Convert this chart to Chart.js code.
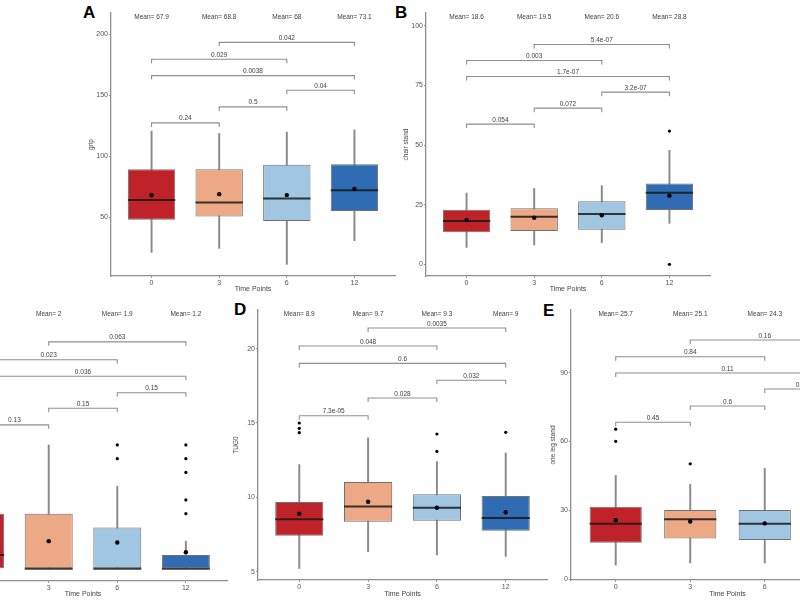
<!DOCTYPE html>
<html>
<head>
<meta charset="utf-8">
<script src="https://cdn.jsdelivr.net/npm/chart.js@4.4.0/dist/chart.umd.min.js"></script>
<style>
  html, body { margin: 0; padding: 0; background: #fff; }
  body { width: 800px; height: 600px; position: relative; overflow: hidden; }
  canvas { position: absolute; }
  .tag { position: absolute; font: bold 17px "Liberation Sans", Arial, sans-serif; color: #000; line-height: 1; }
</style>
</head>
<body>
<div class="tag" style="left:83px;top:4px">A</div>
<div class="tag" style="left:395px;top:4px">B</div>
<div class="tag" style="left:234px;top:301px">D</div>
<div class="tag" style="left:543px;top:302px">E</div>
<script>
const timePoints = ['0', '3', '6', '12'];
const boxColors = ['#BF2329', '#EDA985', '#A0C6E2', '#2F6CB3'];
// bracket pairs, same order in every panel
const pairs = [[0, 1], [1, 2], [2, 3], [0, 3], [0, 2], [1, 3]];

// A - grip
const gripLow = [21.0, 24.3, 11.2, 30.6];
const gripQ1 = [47.8, 50.5, 46.7, 54.9];
const gripMedian = [63.9, 62.0, 65.3, 71.9];
const gripQ3 = [89.3, 89.3, 92.9, 93.4];
const gripHigh = [120.5, 118.6, 119.7, 121.6];
const gripMean = [67.9, 68.8, 68, 73.1];
const gripOutliers = [];
const gripP = ['0.24', '0.5', '0.04', '0.0038', '0.029', '0.042'];
const gripBracketY = [127.3, 140.4, 154.1, 166.1, 179.5, 193.4];
const gripTicks = [50, 100, 150, 200];

// B - chair stand
const chairLow = [7.1, 8.1, 9.1, 17.2];
const chairQ1 = [13.4, 14.0, 14.5, 22.8];
const chairMedian = [18.2, 20.0, 21.1, 30.0];
const chairQ3 = [22.9, 23.5, 26.5, 33.9];
const chairHigh = [29.9, 31.8, 33.0, 47.8];
const chairMean = [18.6, 19.5, 20.6, 28.8];
const chairOutliers = [[3, 55.9], [3, 0]];
const chairP = ['0.054', '0.072', '3.2e-07', '1.7e-07', '0.003', '5.4e-07'];
const chairBracketY = [58.8, 65.5, 72.2, 78.8, 85.5, 92.2];
const chairTicks = [0, 25, 50, 75, 100];

// C - (left part cut off)
const cLow = [0, 0, 0, 0];
const cQ1 = [0, 0, 0, 0];
const cMedian = [1, 0, 0, 0];
const cQ3 = [4, 4, 3, 1];
const cHigh = [9, 9, 6, 2];
const cMean = [2.3, 2, 1.9, 1.2];
const cOutliers = [[2, 8], [2, 9], [3, 4], [3, 5], [3, 7], [3, 8], [3, 9]];
const cP = ['0.13', '0.15', '0.15', '0.036', '0.023', '0.063'];
const cBracketY = [10.46, 11.67, 12.8, 14.0, 15.2, 16.5];
const cTicks = [0, 5, 10, 15];

// D - TUG0
const tugLow = [5.22, 6.35, 6.12, 6.03];
const tugQ1 = [7.42, 8.36, 8.43, 7.76];
const tugMedian = [8.52, 9.39, 9.30, 8.61];
const tugQ3 = [9.69, 11.03, 10.20, 10.09];
const tugHigh = [12.2, 14.0, 12.4, 12.98];
const tugMean = [8.9, 9.7, 9.3, 9];
const tugOutliers = [[0, 15.0], [0, 14.64], [0, 14.35], [2, 14.26], [2, 13.09], [3, 14.37]];
const tugP = ['7.3e-05', '0.028', '0.032', '0.6', '0.048', '0.0035'];
const tugBracketY = [15.49, 16.68, 17.87, 19.01, 20.18, 21.39];
const tugTicks = [5, 10, 15, 20];

// E - one leg stand (12 month box is off the right edge)
const legLow = [6.1, 7.0, 7.0, 3];
const legQ1 = [15.9, 17.7, 17.1, 15];
const legMedian = [24.1, 26.1, 24.1, 22];
const legQ3 = [31.6, 30.1, 30.1, 30];
const legHigh = [45.2, 41.3, 48.3, 50];
const legMean = [25.7, 25.1, 24.3, 23.4];
const legOutliers = [[0, 65.4], [0, 60.1], [1, 50.3]];
const legP = ['0.45', '0.6', '0.27', '0.11', '0.84', '0.16'];
const legBracketY = [68.4, 75.5, 82.9, 89.9, 97.0, 104.3];
const legTicks = [0, 30, 60, 90];

const axisColor = '#8f8f8f';
const fontFamily = '"Liberation Sans", Arial, sans-serif';

function labelPlugin(means, meanY, pValues, heights) {
  return {
    id: 'boxLabels',
    afterDatasetsDraw(chart) {
      const ctx = chart.ctx;
      const x = chart.scales.x;
      const y = chart.scales.y;
      ctx.save();
      ctx.font = '6.5px ' + fontFamily;
      ctx.fillStyle = '#3c3c3c';
      ctx.textAlign = 'center';
      ctx.textBaseline = 'middle';
      means.forEach((m, i) => {
        ctx.fillText('Mean= ' + m, x.getPixelForValue(i), y.getPixelForValue(meanY));
      });
      ctx.textBaseline = 'bottom';
      pairs.forEach(([a, b], k) => {
        ctx.fillText(pValues[k], x.getPixelForValue((a + b) / 2), y.getPixelForValue(heights[k]) - 1);
      });
      ctx.restore();
    }
  };
}

function panelConfig(p) {
  const tick = (p.yMax - p.yMin) * 4 / (p.area.b - p.area.t);
  const idx = timePoints.map((_, i) => i);

  const datasets = [
    {
      type: 'bar',
      data: idx.map(i => ({ x: i, y: [p.low[i], p.high[i]] })),
      backgroundColor: '#8a8a8a',
      barThickness: 1.3,
      grouped: false,
      order: 6
    },
    {
      type: 'bar',
      data: idx.map(i => ({ x: i, y: [p.q1[i], p.q3[i]] })),
      backgroundColor: boxColors,
      borderColor: '#707070',
      borderWidth: 1,
      borderSkipped: false,
      barPercentage: 0.7,
      categoryPercentage: 1,
      grouped: false,
      order: 5
    },
    {
      type: 'line',
      data: idx.map(i => ({ x: i, y: p.median[i] })),
      showLine: false,
      pointStyle: 'line',
      pointRadius: (ctx) => {
        const sx = ctx.chart.scales.x;
        return sx.getPixelForValue(0.35) - sx.getPixelForValue(0);
      },
      pointBorderWidth: 2,
      pointBorderColor: 'rgba(25,25,25,0.85)',
      order: 4
    },
    {
      type: 'line',
      data: idx.map(i => ({ x: i, y: p.mean[i] })),
      showLine: false,
      pointRadius: 2.2,
      pointBorderWidth: 0,
      pointBackgroundColor: '#000',
      order: 3
    },
    {
      type: 'line',
      data: p.outliers.map(o => ({ x: o[0], y: o[1] })),
      showLine: false,
      pointRadius: 1.6,
      pointBorderWidth: 0,
      pointBackgroundColor: '#000',
      order: 3
    }
  ];

  pairs.forEach(([a, b], k) => {
    const h = p.bracketY[k];
    datasets.push({
      type: 'line',
      data: [{ x: a, y: h - tick }, { x: a, y: h }, { x: b, y: h }, { x: b, y: h - tick }],
      borderColor: axisColor,
      borderWidth: 1.1,
      pointRadius: 0,
      tension: 0,
      order: 1
    });
  });

  return {
    type: 'bar',
    data: { datasets: datasets },
    options: {
      responsive: false,
      animation: false,
      events: [],
      layout: { padding: { left: 0, right: 4, top: 0, bottom: 0 } },
      plugins: { legend: { display: false }, tooltip: { enabled: false } },
      scales: {
        x: {
          type: 'linear',
          min: -0.6,
          max: 3.6,
          offset: false,
          afterBuildTicks: (scale) => { scale.ticks = idx.map(v => ({ value: v })); },
          afterFit: (scale) => {
            scale.height = p.xH;
            scale.paddingLeft = 0;
            scale.paddingRight = 0;
          },
          ticks: {
            callback: (v) => timePoints[v],
            font: { size: 7, family: fontFamily },
            color: '#555',
            padding: 1,
            autoSkip: false,
            maxRotation: 0
          },
          grid: { display: true, drawOnChartArea: false, drawTicks: true, tickLength: 2, color: axisColor, offset: false },
          border: { display: true, color: axisColor, width: 1.3 },
          title: { display: true, text: 'Time Points', font: { size: 7, family: fontFamily }, color: '#444', padding: 0 }
        },
        y: {
          type: 'linear',
          min: p.yMin,
          max: p.yMax,
          afterBuildTicks: (scale) => { scale.ticks = p.ticks.map(v => ({ value: v })); },
          afterFit: (scale) => {
            scale.width = p.yW;
            scale.paddingTop = 0;
            scale.paddingBottom = 0;
          },
          ticks: { font: { size: 7, family: fontFamily }, color: '#555', padding: 1 },
          grid: { display: true, drawOnChartArea: false, drawTicks: true, tickLength: 2, color: axisColor },
          border: { display: true, color: axisColor, width: 1.3 },
          title: { display: !!p.yTitle, text: p.yTitle, font: { size: 6.5, family: fontFamily }, color: '#444', padding: { top: 0.5, bottom: 0 } }
        }
      }
    },
    plugins: [labelPlugin(p.mean, p.meanY, p.pValues, p.bracketY)]
  };
}

function placeCanvas(canvas, left, top, width, height) {
  canvas.width = width;
  canvas.height = height;
  canvas.style.left = left + 'px';
  canvas.style.top = top + 'px';
  canvas.style.width = width + 'px';
  canvas.style.height = height + 'px';
}

function buildPanel(p) {
  const canvas = document.createElement('canvas');
  document.body.appendChild(canvas);
  let left = p.area.l - p.yW;
  let top = p.area.t;
  let width = p.area.r - left + 4;
  let height = p.area.b + p.xH - top;
  placeCanvas(canvas, left, top, width, height);

  // first pass: see where the plot area lands, then move the canvas to match the reference
  const probe = new Chart(canvas.getContext('2d'), panelConfig(p));
  const a = probe.chartArea;
  const offTop = a.top;
  const offLeft = a.left - p.yW;
  const offBottom = (p.area.b - top) - a.bottom;
  const offRight = (p.area.r - left) - a.right;
  probe.destroy();

  top -= offTop;
  left -= offLeft;
  height += offTop + offBottom;
  width += offLeft + offRight;
  placeCanvas(canvas, left, top, width, height);
  new Chart(canvas.getContext('2d'), panelConfig(p));
}

buildPanel({
  area: { l: 111, t: 13, r: 395, b: 276 }, yW: 24, xH: 17,
  yMin: 1.6, yMax: 217.5, ticks: gripTicks, yTitle: 'grip',
  low: gripLow, q1: gripQ1, median: gripMedian, q3: gripQ3, high: gripHigh,
  mean: gripMean, outliers: gripOutliers, meanY: 214.2, pValues: gripP, bracketY: gripBracketY
});

buildPanel({
  area: { l: 426, t: 13, r: 710, b: 276 }, yW: 24, xH: 17,
  yMin: -4.9, yMax: 105.4, ticks: chairTicks, yTitle: 'chair stand',
  low: chairLow, q1: chairQ1, median: chairMedian, q3: chairQ3, high: chairHigh,
  mean: chairMean, outliers: chairOutliers, meanY: 103.8, pValues: chairP, bracketY: chairBracketY
});

buildPanel({
  area: { l: -61, t: 302, r: 227, b: 581 }, yW: 24, xH: 17,
  yMin: -0.9, yMax: 19.4, ticks: cTicks, yTitle: '',
  low: cLow, q1: cQ1, median: cMedian, q3: cQ3, high: cHigh,
  mean: cMean, outliers: cOutliers, meanY: 18.5, pValues: cP, bracketY: cBracketY
});

buildPanel({
  area: { l: 258, t: 310, r: 547, b: 580 }, yW: 26, xH: 18,
  yMin: 4.44, yMax: 22.6, ticks: tugTicks, yTitle: 'TUG0',
  low: tugLow, q1: tugQ1, median: tugMedian, q3: tugQ3, high: tugHigh,
  mean: tugMean, outliers: tugOutliers, meanY: 22.31, pValues: tugP, bracketY: tugBracketY
});

buildPanel({
  area: { l: 571, t: 310, r: 884, b: 580 }, yW: 22, xH: 18,
  yMin: -0.4, yMax: 117.4, ticks: legTicks, yTitle: 'one leg stand',
  low: legLow, q1: legQ1, median: legMedian, q3: legQ3, high: legHigh,
  mean: legMean, outliers: legOutliers, meanY: 115.5, pValues: legP, bracketY: legBracketY
});
</script>
</body>
</html>
